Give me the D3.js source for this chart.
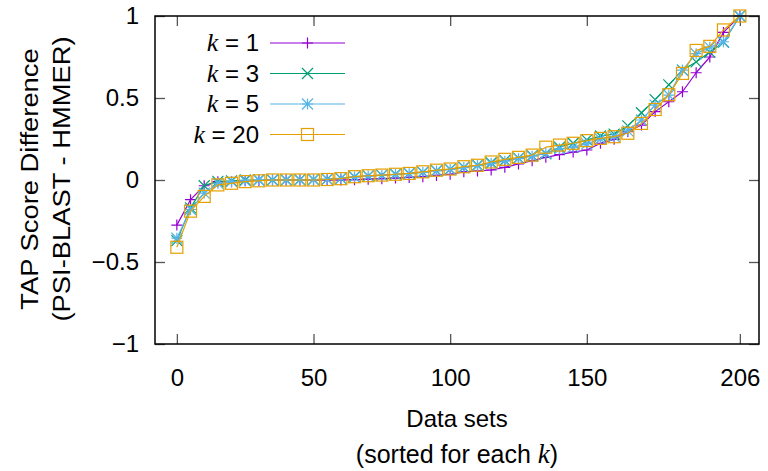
<!DOCTYPE html>
<html>
<head>
<meta charset="utf-8">
<script src="https://cdn.jsdelivr.net/npm/d3@7"></script>
<style>
  body { margin: 0; background: #fff; }
  text { font-family: "Liberation Sans", Arial, sans-serif; fill: #000; }
  .kvar { font-family: "Liberation Serif", "Times New Roman", serif; font-style: italic; }
</style>
</head>
<body>
<div id="chart"></div>
<script>
// data sets index (sorted position) where points are sampled
var dataIdx = [0, 5, 10, 15, 20, 25, 30, 35, 40, 45, 50, 55, 60, 65, 70, 75, 80, 85, 90, 95,
  100, 105, 110, 115, 120, 125, 130, 135, 140, 145, 150, 155, 160, 165, 170, 175, 180, 185, 190, 195, 200, 206];

var k1 = [-0.275, -0.12, -0.035, -0.01, -0.01, -0.005, -0.003, 0, 0, 0, 0, 0, 0, 0.002, 0.005, 0.008, 0.012, 0.016, 0.02, 0.028,
  0.035, 0.05, 0.055, 0.061, 0.077, 0.098, 0.118, 0.138, 0.155, 0.17, 0.183, 0.224, 0.248, 0.295, 0.335, 0.417, 0.477, 0.538, 0.654, 0.75, 0.9, 1.0];
var k3 = [-0.37, -0.17, -0.035, -0.008, -0.005, 0, 0, 0, 0, 0.002, 0.003, 0.005, 0.01, 0.02, 0.025, 0.03, 0.035, 0.04, 0.048, 0.057,
  0.066, 0.078, 0.09, 0.105, 0.12, 0.133, 0.148, 0.16, 0.2, 0.224, 0.245, 0.268, 0.28, 0.33, 0.41, 0.49, 0.58, 0.67, 0.72, 0.78, 0.84, 1.0];
var k5 = [-0.355, -0.18, -0.08, -0.02, -0.01, -0.005, 0, 0, 0, 0, 0.002, 0.004, 0.01, 0.018, 0.024, 0.028, 0.033, 0.038, 0.046, 0.055,
  0.064, 0.076, 0.088, 0.1, 0.115, 0.13, 0.145, 0.163, 0.19, 0.2, 0.22, 0.25, 0.265, 0.3, 0.366, 0.457, 0.518, 0.67, 0.77, 0.81, 0.843, 1.0];
var k20 = [-0.41, -0.19, -0.1, -0.03, -0.02, -0.01, -0.005, 0, 0, 0, 0, 0.003, 0.008, 0.02, 0.026, 0.03, 0.035, 0.04, 0.05, 0.06,
  0.067, 0.081, 0.09, 0.11, 0.126, 0.138, 0.152, 0.2, 0.213, 0.224, 0.24, 0.254, 0.264, 0.285, 0.345, 0.43, 0.52, 0.65, 0.79, 0.815, 0.915, 1.0];

var kLabels = ["1", "3", "5", "20"];
var xTicks = [0, 50, 100, 150, 206];
var yTicks = [-1, -0.5, 0, 0.5, 1];

var series = [
  { k: kLabels[0], values: k1, color: "#9400d3", marker: "plus" },
  { k: kLabels[1], values: k3, color: "#009e73", marker: "cross" },
  { k: kLabels[2], values: k5, color: "#56b4e9", marker: "star" },
  { k: kLabels[3], values: k20, color: "#e69f00", marker: "square" }
];

var svgWidth = 768, svgHeight = 471;
var margin = { top: 16, right: 9, bottom: 127, left: 155 };
var width = svgWidth - margin.left - margin.right;
var height = svgHeight - margin.top - margin.bottom;
var fontSize = "24px";

var svg = d3.select("#chart").append("svg")
  .attr("width", svgWidth)
  .attr("height", svgHeight);

var g = svg.append("g").attr("transform", "translate(" + margin.left + "," + margin.top + ")");

var x = d3.scaleLinear().domain([-8, 213]).range([0, width]);
var y = d3.scaleLinear().domain([-1, 1]).range([height, 0]);

// draw a marker shape centred on 0,0
function drawMarker(sel, type, color) {
  var s = 5.5;
  if (type === "plus") {
    sel.append("path").attr("d", "M" + (-s) + ",0H" + s + "M0," + (-s) + "V" + s);
  } else if (type === "cross") {
    sel.append("path").attr("d", "M" + (-s) + "," + (-s) + "L" + s + "," + s + "M" + (-s) + "," + s + "L" + s + "," + (-s));
  } else if (type === "star") {
    sel.append("path").attr("d", "M" + (-s) + ",0H" + s + "M0," + (-s) + "V" + s +
      "M" + (-s) + "," + (-s) + "L" + s + "," + s + "M" + (-s) + "," + s + "L" + s + "," + (-s));
  } else {
    sel.append("rect").attr("x", -6).attr("y", -6).attr("width", 12).attr("height", 12);
  }
  sel.selectAll("path, rect").attr("stroke", color).attr("stroke-width", 1.2).attr("fill", "none");
}

// axes with inward ticks on all four sides
var tickLen = 10;
g.append("g")
  .attr("transform", "translate(0," + height + ")")
  .call(d3.axisBottom(x).tickValues(xTicks).tickSize(-tickLen).tickPadding(25).tickFormat(d3.format("d")))
  .call(function (a) { a.select(".domain").remove(); });
g.append("g")
  .call(d3.axisTop(x).tickValues(xTicks).tickSize(-tickLen).tickFormat(""))
  .call(function (a) { a.select(".domain").remove(); });
g.append("g")
  .call(d3.axisLeft(y).tickValues(yTicks).tickSize(-tickLen).tickPadding(16).tickFormat(d3.format("")))
  .call(function (a) { a.select(".domain").remove(); });
g.append("g")
  .attr("transform", "translate(" + width + ",0)")
  .call(d3.axisRight(y).tickValues(yTicks).tickSize(-tickLen).tickFormat(""))
  .call(function (a) { a.select(".domain").remove(); });

g.selectAll(".tick line").attr("stroke", "#555").attr("stroke-width", 1.3);
g.selectAll(".tick text").style("font-size", fontSize).attr("fill", "#000");

// series lines and markers
var line = d3.line()
  .x(function (d, i) { return x(dataIdx[i]); })
  .y(function (d) { return y(d); });

series.forEach(function (s) {
  g.append("path")
    .attr("fill", "none")
    .attr("stroke", s.color)
    .attr("stroke-width", 1.2)
    .attr("stroke-linejoin", "round")
    .attr("d", line(s.values));
  g.selectAll(null)
    .data(s.values)
    .enter().append("g")
    .attr("transform", function (d, i) { return "translate(" + x(dataIdx[i]) + "," + y(d) + ")"; })
    .each(function () { drawMarker(d3.select(this), s.marker, s.color); });
});

// frame
g.append("rect")
  .attr("width", width).attr("height", height)
  .attr("fill", "none").attr("stroke", "#000").attr("stroke-width", 1.5);

// legend
var legend = g.append("g").attr("transform", "translate(0,27)");
series.forEach(function (s, i) {
  var row = legend.append("g").attr("transform", "translate(0," + (i * 30.5) + ")");
  var t = row.append("text")
    .attr("x", 104).attr("y", 8)
    .attr("text-anchor", "end")
    .style("font-size", fontSize);
  t.append("tspan").attr("class", "kvar").style("font-size", "26px").text("k");
  t.append("tspan").text(" = " + s.k);
  row.append("line")
    .attr("x1", 115).attr("x2", 190)
    .attr("stroke", s.color).attr("stroke-width", 1.2);
  var m = row.append("g").attr("transform", "translate(152.5,0)");
  drawMarker(m, s.marker, s.color);
});

// axis titles (y title is a bit stretched along its length in the original)
var yTitle = svg.append("text")
  .attr("transform", "translate(38,179) rotate(-90) scale(1.14,1)")
  .attr("text-anchor", "middle")
  .style("font-size", fontSize);
yTitle.append("tspan").attr("x", 0).attr("dy", 0).text("TAP Score Difference");
yTitle.append("tspan").attr("x", 0).attr("dy", 32).text("(PSI-BLAST - HMMER)");

svg.append("text")
  .attr("x", 457).attr("y", 427)
  .attr("text-anchor", "middle")
  .style("font-size", fontSize)
  .text("Data sets");
var xSub = svg.append("text")
  .attr("x", 457).attr("y", 463)
  .attr("text-anchor", "middle")
  .style("font-size", "25px");
xSub.append("tspan").text("(sorted for each ");
xSub.append("tspan").attr("class", "kvar").style("font-size", "27px").text("k");
xSub.append("tspan").text(")");
</script>
</body>
</html>
